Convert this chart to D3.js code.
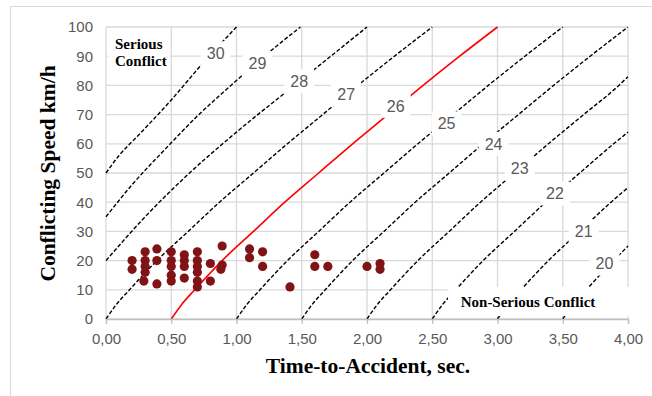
<!DOCTYPE html>
<html>
<head>
<meta charset="utf-8">
<script src="https://cdn.jsdelivr.net/npm/d3@7"></script>
<style>
  body { margin: 0; background: #fff; }
  svg { display: block; }
  .tick text { font-family: "Liberation Sans", Arial, sans-serif; font-size: 15px; fill: #595959; }
  .title { font-family: "Liberation Serif", "Times New Roman", serif; font-weight: bold; fill: #000; }
  .note { font-family: "Liberation Serif", "Times New Roman", serif; font-weight: bold; font-size: 15px; fill: #000; }
  .clabel { font-family: "Liberation Sans", Arial, sans-serif; font-size: 16px; fill: #595959; }
</style>
</head>
<body>
<div id="chart"></div>
<script>
// observed conflicts: time-to-accident (s) and conflicting speed (km/h)
var taValues = [0.2,0.2, 0.3,0.3,0.3,0.3,0.29, 0.39,0.39,0.39,
  0.5,0.5,0.5,0.5,0.5, 0.6,0.6,0.6,0.6, 0.7,0.7,0.7,0.7,0.7,0.7,
  0.8,0.8, 0.89,0.89,0.88, 1.1,1.1, 1.2,1.2, 1.41, 1.6,1.6, 1.7, 2.0, 2.1,2.1];
var speedValues = [20,17, 23,20,18,16,13, 24,20,12,
  23,20,18,15,13, 22,20,18,14, 23,20,18,16,13,11,
  19,13, 25,18.5,17, 24,21, 23,18, 11, 22,18, 18, 18, 19,17];

// iso-severity curves, [TA, speed]
var curveNames = ["30","29","28","27","26","25","24","23","22","21","20"];
var curvePoints = [
  [[0,50],[0.1,56],[0.25,63],[0.49,74.5],[0.74,87.5],[1.0,100]],
  [[0,35],[0.2,46],[0.45,58],[0.7,69.5],[0.97,80.5],[1.16,88],[1.49,100]],
  [[0,20],[0.3,35],[0.64,50],[1.0,64],[1.5,82],[2.0,100]],
  [[0,0],[0.08,5],[0.18,10],[0.39,20],[0.63,30],[0.87,40],[1.13,50],[1.39,60],[1.66,70],[1.93,80],[2.21,90],[2.5,100]],
  [[0.5,0],[0.58,5],[0.68,10],[0.89,20],[1.13,30],[1.37,40],[1.63,50],[1.89,60],[2.16,70],[2.43,80],[2.71,90],[3.0,100]],
  [[1.0,0],[1.08,5],[1.18,10],[1.39,20],[1.63,30],[1.87,40],[2.13,50],[2.39,60],[2.66,70],[2.93,80],[3.21,90],[3.5,100]],
  [[1.5,0],[1.58,5],[1.68,10],[1.89,20],[2.13,30],[2.37,40],[2.63,50],[2.89,60],[3.16,70],[3.43,80],[3.71,90],[4.0,100]],
  [[2.0,0],[2.08,5],[2.18,10],[2.39,20],[2.63,30],[2.87,40],[3.13,50],[3.39,60],[3.66,70],[3.93,80],[4.0,83]],
  [[2.5,0],[2.58,5],[2.68,10],[2.89,20],[3.13,30],[3.37,40],[3.63,50],[3.89,60],[4.0,64]],
  [[3.0,0],[3.08,5],[3.18,10],[3.39,20],[3.63,30],[3.87,40],[4.0,45]],
  [[3.5,0],[3.58,5],[3.68,10],[3.89,20],[4.0,25]]
];
var labelTA = [0.84,1.16,1.48,1.84,2.22,2.61,2.97,3.17,3.44,3.66,3.82];
var labelSpeed = [91,87.5,81.5,77,73,67,60,51.5,43,30,19];
var redCurve = "26";

var xTicks = [0,0.5,1,1.5,2,2.5,3,3.5,4];
var yTicks = [0,10,20,30,40,50,60,70,80,90,100];

var width = 652, height = 396;
var margin = {top: 27, right: 22, bottom: 77, left: 106};

var svg = d3.select("#chart").append("svg")
    .attr("width", width)
    .attr("height", height);

// outer frame
svg.append("rect")
    .attr("x", 10.5).attr("y", 6.5)
    .attr("width", 700).attr("height", 500)
    .attr("fill", "none")
    .attr("stroke", "#d9d9d9");

var x = d3.scaleLinear().domain([0, 4]).range([margin.left, width - margin.right - 2]);
var y = d3.scaleLinear().domain([0, 100]).range([height - margin.bottom, margin.top]);

// grid
svg.append("g").selectAll("line")
    .data(yTicks).enter().append("line")
    .attr("x1", x(0)).attr("x2", x(4))
    .attr("y1", function(d){ return y(d); })
    .attr("y2", function(d){ return y(d); })
    .attr("stroke", "#d9d9d9").attr("stroke-width", 1.3);
svg.append("g").selectAll("line")
    .data(xTicks).enter().append("line")
    .attr("y1", y(0)).attr("y2", y(100))
    .attr("x1", function(d){ return x(d); })
    .attr("x2", function(d){ return x(d); })
    .attr("stroke", "#d9d9d9").attr("stroke-width", 1.3);

// curves
var line = d3.line()
    .x(function(d){ return x(d[0]); })
    .y(function(d){ return y(d[1]); })
    .curve(d3.curveMonotoneX);

svg.append("g").selectAll("path")
    .data(curvePoints).enter().append("path")
    .attr("d", line)
    .attr("fill", "none")
    .attr("stroke", function(d, i){ return curveNames[i] == redCurve ? "#ff0000" : "#000"; })
    .attr("stroke-width", function(d, i){ return curveNames[i] == redCurve ? 1.6 : 1.4; })
    .attr("stroke-dasharray", function(d, i){ return curveNames[i] == redCurve ? null : "4,2"; });

// curve labels
var lab = svg.append("g").selectAll("g")
    .data(curveNames).enter().append("g")
    .attr("transform", function(d, i){ return "translate(" + x(labelTA[i]) + "," + y(labelSpeed[i]) + ")"; });
lab.append("rect")
    .attr("x", -15).attr("y", -12)
    .attr("width", 30).attr("height", 24)
    .attr("fill", "#fff");
lab.append("text")
    .attr("class", "clabel")
    .attr("text-anchor", "middle")
    .attr("dy", ".36em")
    .text(function(d){ return d; });

// region notes
svg.append("rect")
    .attr("x", x(0) + 2).attr("y", 32)
    .attr("width", 62).attr("height", 38)
    .attr("fill", "#fff");
svg.append("text").attr("class", "note")
    .attr("x", 115).attr("y", 49).text("Serious");
svg.append("text").attr("class", "note")
    .attr("x", 115).attr("y", 65.5).text("Conflict");

svg.append("rect")
    .attr("x", 448).attr("y", 287)
    .attr("width", 181).attr("height", 29)
    .attr("fill", "#fff");
svg.append("text").attr("class", "note")
    .attr("x", 528).attr("y", 306.5)
    .attr("text-anchor", "middle")
    .text("Non-Serious Conflict");

// axes
var fmt = function(d){ return d3.format(".2f")(d).replace(".", ","); };
var xAxis = svg.append("g")
    .attr("transform", "translate(0," + y(0) + ")")
    .call(d3.axisBottom(x).tickValues(xTicks).tickSize(5).tickPadding(9).tickFormat(fmt));
xAxis.select(".domain").attr("stroke", "#bfbfbf").attr("stroke-width", 1.3);
xAxis.selectAll(".tick line").attr("stroke", "#bfbfbf").attr("stroke-width", 1.3);

var yAxis = svg.append("g")
    .attr("transform", "translate(" + x(0) + ",0)")
    .call(d3.axisLeft(y).tickValues(yTicks).tickSize(0).tickPadding(13));
yAxis.select(".domain").remove();

// points
svg.append("g").selectAll("circle")
    .data(taValues).enter().append("circle")
    .attr("cx", function(d){ return x(d); })
    .attr("cy", function(d, i){ return y(speedValues[i]); })
    .attr("r", 4.6)
    .attr("fill", "#7f1315");

// titles
svg.append("text").attr("class", "title")
    .attr("font-size", "21.5px")
    .attr("text-anchor", "middle")
    .attr("x", 368).attr("y", 373)
    .text("Time-to-Accident, sec.");
svg.append("text").attr("class", "title")
    .attr("font-size", "21.5px")
    .attr("text-anchor", "middle")
    .attr("transform", "translate(55,173.5) rotate(-90)")
    .text("Conflicting Speed km/h");
</script>
</body>
</html>
